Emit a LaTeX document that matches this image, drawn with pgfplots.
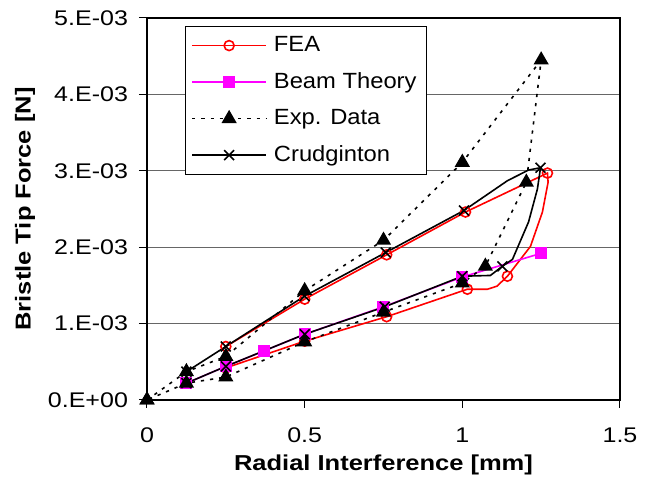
\documentclass[border=0pt]{standalone}
\usepackage{fontspec}
\setmainfont[FakeStretch=1.18]{Liberation Sans}
\newfontfamily\legfont[FakeStretch=1.08]{Liberation Sans}
\usepackage{pgfplots}
\pgfplotsset{compat=1.18}
\usetikzlibrary{calc}
\definecolor{feared}{HTML}{FF0000}
\definecolor{beammag}{HTML}{FF00FF}

\begin{document}
\begin{tikzpicture}
\begin{axis}[
  scale only axis,
  width=236.5pt, height=191pt,
  xmin=0, xmax=1.5, ymin=0, ymax=0.005,
  xtick={0,0.5,1,1.5},
  xticklabels={0,0.5,1,1.5},
  ytick={0,0.001,0.002,0.003,0.004,0.005},
  yticklabels={0.E+00,1.E-03,2.E-03,3.E-03,4.E-03,5.E-03},
  scaled ticks=false,
  tick align=outside,
  xtick pos=bottom, ytick pos=left,
  major tick length=4pt,
  tick style={black, line width=0.5pt},
  ymajorgrids,
  grid style={black!60, line width=0.5pt},
  axis line style={black, line width=0.6pt},
  tick label style={font=\fontsize{10.6}{12}\selectfont},
  xticklabel style={yshift=-6.5pt},
  yticklabel style={xshift=-2pt},
  xlabel={Radial Interference [mm]},
  ylabel={Bristle Tip Force [N]},
  every axis x label/.style={at={(rel axis cs:0.5,0)}, yshift=-32.5pt, anchor=center,
    font=\bfseries\fontsize{10.8}{12}\selectfont},
  every axis y label/.style={at={(rel axis cs:0,0.5)}, xshift=-61pt, rotate=90, anchor=center,
    font=\bfseries\fontsize{10.8}{12}\selectfont},
  legend cell align=left,
  legend style={at={(0.08,0.979)}, anchor=north west, draw=black,
    line width=0.5pt, fill=white, inner xsep=3pt, inner ysep=3pt,
    font=\legfont\fontsize{11}{12}\selectfont, row sep=5pt,
    /tikz/every odd column/.append style={column sep=1.5pt}},
  legend image code/.code={\draw[mark repeat=2,mark phase=2] plot coordinates {(0pt,0pt) (18.5pt,0pt) (37pt,0pt)};},
]
\coordinate (SW) at (rel axis cs:0,0);
\coordinate (NE) at (rel axis cs:1,1);
\addlegendimage{feared, line width=0.8pt, mark=o, mark size=2.5pt}
\addlegendentry{FEA}
\addlegendimage{beammag, line width=0.8pt, mark=square*, mark size=2.6pt}
\addlegendentry{Beam Theory}
\addlegendimage{black, line width=0.8pt, dash pattern=on 1.6pt off 3pt, mark=triangle*, mark size=3.6pt, mark options={solid}}
\addlegendentry{Exp. Data}
\addlegendimage{black, line width=0.8pt, mark=x, mark size=3.5pt}
\addlegendentry{Crudginton}
% FEA
\addplot[feared, line width=0.8pt, mark=o, mark size=2.5pt, forget plot,
  mark indices={1,2,3,4,5,9,12,13,14,15}] coordinates {
  (0.25,0.70e-3) (0.5,1.32e-3) (0.76,1.90e-3) (1.01,2.46e-3) (1.27,2.97e-3)
  (1.272,2.85e-3) (1.254,2.46e-3) (1.216,2.01e-3) (1.143,1.62e-3) (1.11,1.49e-3)
  (1.08,1.45e-3) (1.016,1.45e-3) (0.76,1.09e-3) (0.5,0.77e-3) (0.25,0.42e-3)};
% Beam theory
\addplot[beammag, line width=0.8pt, mark=square*, mark size=2.6pt, forget plot] coordinates {
  (0.125,0.22e-3) (0.25,0.44e-3) (0.37,0.64e-3) (0.5,0.86e-3) (0.75,1.22e-3)
  (1.0,1.61e-3) (1.25,1.92e-3)};
% Experimental data
\addplot[black, line width=0.8pt, dash pattern=on 1.6pt off 3pt, mark=triangle*,
  mark size=3.6pt, mark options={solid}, forget plot] coordinates {
  (0,0) (0.125,0.37e-3) (0.25,0.57e-3) (0.5,1.43e-3) (0.75,2.09e-3) (1.0,3.11e-3)
  (1.25,4.45e-3) (1.203,2.85e-3) (1.073,1.75e-3) (1.0,1.53e-3) (0.75,1.15e-3)
  (0.5,0.76e-3) (0.25,0.30e-3) (0.125,0.22e-3) (0,0)};
% Crudginton
\addplot[black, line width=0.8pt, mark=x, mark size=3.5pt, forget plot,
  mark indices={1,2,3,4,5,8,12,14,15,16,17,18}] coordinates {
  (0.125,0.37e-3) (0.25,0.70e-3) (0.5,1.36e-3) (0.757,1.93e-3) (1.005,2.48e-3)
  (1.143,2.87e-3) (1.21,3.01e-3) (1.248,3.04e-3) (1.238,2.76e-3) (1.21,2.33e-3)
  (1.159,1.84e-3) (1.127,1.75e-3) (1.089,1.63e-3) (1.0,1.62e-3) (0.754,1.22e-3)
  (0.5,0.86e-3) (0.25,0.44e-3) (0.125,0.22e-3)};
\end{axis}
\path ($(SW)+(-73.5pt,-40.5pt)$) rectangle ($(NE)+(17.5pt,9pt)$);
\end{tikzpicture}
\end{document}
